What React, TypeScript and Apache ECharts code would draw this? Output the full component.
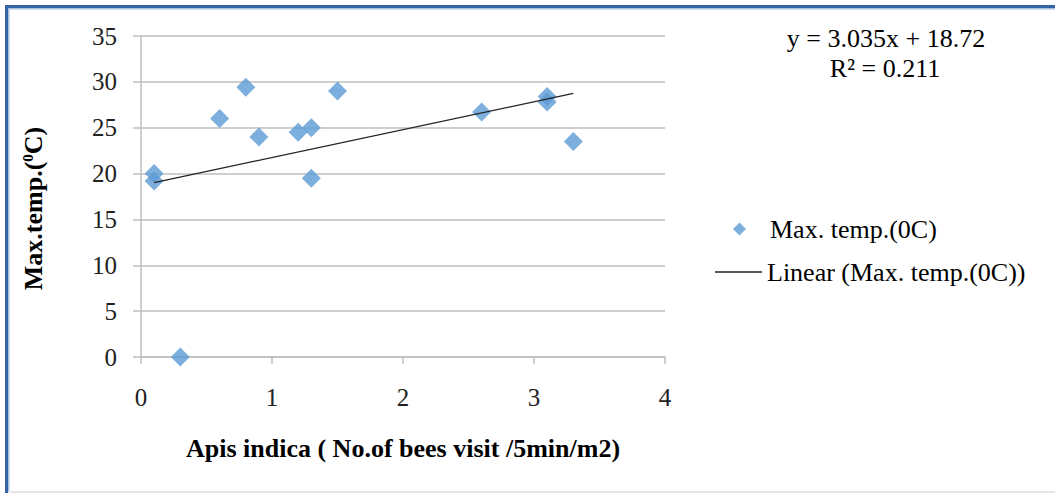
import React, { useEffect, useRef } from "react";
import * as echarts from "echarts";

// Data
const beeVisits = [0.1, 0.1, 0.3, 0.6, 0.8, 0.9, 1.2, 1.3, 1.3, 1.5, 2.6, 3.1, 3.1, 3.3];
const maxTemp = [20, 19.2, 0, 26, 29.4, 24, 24.5, 25, 19.5, 29, 26.7, 28.4, 27.8, 23.5];
const xAxisRange = { min: 0, max: 4, interval: 1 };
const yAxisRange = { min: 0, max: 35, interval: 5 };
const trendSlope = 3.035;
const trendIntercept = 18.72;
const rSquared = 0.211;
const scatterName = "Max. temp.(0C)";
const trendName = "Linear (Max. temp.(0C))";
const xTitle = "Apis indica ( No.of bees visit /5min/m2)";

const FONT = "'Liberation Serif', 'Times New Roman', serif";

export default function App() {
  const ref = useRef<HTMLDivElement>(null);
  useEffect(() => {
    if (!ref.current) return;
    const chart = echarts.init(ref.current, undefined, { renderer: "svg" });
    const points = beeVisits.map((x, i) => [x, maxTemp[i]]);
    const xMin = Math.min(...beeVisits);
    const xMax = Math.max(...beeVisits);
    const trend = [
      [xMin, trendSlope * xMin + trendIntercept],
      [xMax, trendSlope * xMax + trendIntercept],
    ];
    chart.setOption({
      animation: false,
      backgroundColor: "#ffffff",
      textStyle: { fontFamily: FONT },
      grid: { left: 141, top: 36, width: 524, height: 321, containLabel: false },
      xAxis: {
        type: "value",
        min: xAxisRange.min,
        max: xAxisRange.max,
        interval: xAxisRange.interval,
        name: xTitle,
        nameLocation: "middle",
        nameGap: 78,
        nameTextStyle: { fontFamily: FONT, fontSize: 26, fontWeight: "bold", color: "#000" },
        axisLine: { show: true, lineStyle: { color: "#BFBFBF", width: 1.5 } },
        axisTick: { show: true, length: 7, lineStyle: { color: "#BFBFBF", width: 1.5 } },
        axisLabel: { margin: 28, fontFamily: FONT, fontSize: 25, color: "#222" },
        splitLine: { show: false },
      },
      yAxis: {
        type: "value",
        min: yAxisRange.min,
        max: yAxisRange.max,
        interval: yAxisRange.interval,
        name: "{b|Max.temp.(}{s|0}{b|C)}",
        nameLocation: "middle",
        nameGap: 95,
        nameRotate: 90,
        nameTextStyle: {
          padding: [0, 24, 0, 0],
          rich: {
            b: { fontFamily: FONT, fontSize: 26, fontWeight: "bold", color: "#000" },
            s: { fontFamily: FONT, fontSize: 15, fontWeight: "bold", color: "#000", padding: [0, 0, 11, 0] },
          },
        },
        axisLine: { show: true, lineStyle: { color: "#BFBFBF", width: 1.5 } },
        axisTick: { show: true, length: 8, lineStyle: { color: "#BFBFBF", width: 1.5 } },
        axisLabel: { margin: 24, fontFamily: FONT, fontSize: 25, color: "#222" },
        splitLine: { show: true, lineStyle: { color: "#BFBFBF", width: 1.5 } },
      },
      legend: [
        {
          data: [{ name: scatterName, icon: "diamond" }],
          left: 733,
          top: 216,
          padding: 0,
          itemWidth: 13,
          itemHeight: 13,
          textStyle: { fontFamily: FONT, fontSize: 26, color: "#000", padding: [0, 0, 0, 19] },
          selectedMode: false,
        },
        {
          data: [{ name: trendName, icon: "path://M0,0H47V1.3H0Z" }],
          left: 715,
          top: 259,
          padding: 0,
          itemWidth: 47,
          itemHeight: 1.3,
          textStyle: { fontFamily: FONT, fontSize: 26, color: "#000" },
          selectedMode: false,
        },
      ],
      graphic: [
        { type: "rect", shape: { x: 5, y: 5, width: 1050, height: 3 }, style: { fill: "#3563A3" } },
        { type: "rect", shape: { x: 8, y: 8, width: 1047, height: 1.5 }, style: { fill: "#A9C0DE" } },
        { type: "rect", shape: { x: 5, y: 5, width: 3, height: 488 }, style: { fill: "#3563A3" } },
        { type: "rect", shape: { x: 8, y: 8, width: 1.5, height: 485 }, style: { fill: "#A9C0DE" } },
        { type: "rect", shape: { x: 8, y: 491, width: 1047, height: 2 }, style: { fill: "#E6E6E6" } },
        {
          type: "text",
          x: 886,
          y: 38,
          style: {
            text: `y = ${trendSlope}x + ${trendIntercept}`,
            font: `26px ${FONT}`,
            fill: "#000",
            textAlign: "center",
            textVerticalAlign: "middle",
          },
        },
        {
          type: "text",
          x: 885,
          y: 68,
          style: {
            text: `R² = ${rSquared}`,
            font: `26px ${FONT}`,
            fill: "#000",
            textAlign: "center",
            textVerticalAlign: "middle",
          },
        },
      ],
      series: [
        {
          name: scatterName,
          type: "scatter",
          data: points,
          symbol: "diamond",
          symbolSize: 19,
          itemStyle: { color: "#5B9BD5" },
          z: 3,
        },
        {
          name: trendName,
          type: "line",
          data: trend,
          showSymbol: false,
          symbol: "none",
          lineStyle: { color: "#222", width: 1.3 },
          itemStyle: { color: "#222" },
          z: 4,
        },
      ],
    });
    return () => chart.dispose();
  }, []);
  return (
    <div
      ref={ref}
      style={{ position: "fixed", left: 0, top: 0, width: 1055, height: 493, background: "#fff" }}
    />
  );
}
